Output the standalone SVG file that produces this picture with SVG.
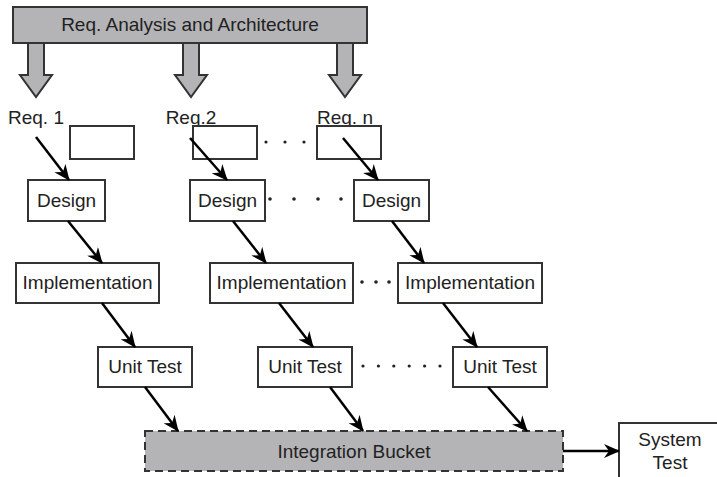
<svg xmlns="http://www.w3.org/2000/svg" width="717" height="477" viewBox="0 0 717 477">
<style>
text{font-family:"Liberation Sans",Arial,sans-serif;font-size:19px;fill:#222;text-anchor:middle}
.box{fill:#fff;stroke:#333;stroke-width:2}
.grey{fill:#b4b4b7;stroke:#333;stroke-width:2}
.dash{fill:#b4b4b7;stroke:#333;stroke-width:2;stroke-dasharray:8 5}
.con{stroke:#000;stroke-width:2.5;fill:none;marker-end:url(#ah)}
.dot{fill:#222}
</style>
<defs>
<marker id="ah" viewBox="0 0 16 14" refX="15" refY="7" markerWidth="16" markerHeight="14" markerUnits="userSpaceOnUse" orient="auto">
<path d="M0,0 L16,7 L0,14 L5,7 z" fill="#000"/>
</marker>
</defs>
<rect width="717" height="477" fill="#fff"/>
<g id="req-analysis">
<rect class="grey" x="13" y="7" width="354" height="36"/>
<text x="190" y="31">Req. Analysis and Architecture</text>
</g>
<g id="fat-arrows">
<polygon class="grey" points="28,43 44,43 44,75 52,75 36,97 20,75 28,75"/>
<polygon class="grey" points="183,43 199,43 199,75 207,75 191,97 175,75 183,75"/>
<polygon class="grey" points="337,43 353,43 353,75 361,75 345,97 329,75 337,75"/>
</g>
<g id="req1"><text x="36" y="124">Req. 1</text><rect class="box" x="70" y="126" width="64" height="33"/></g>
<g id="req2"><text x="191" y="124">Req.2</text><rect class="box" x="193" y="126" width="64" height="33"/></g>
<g id="reqn"><text x="345" y="124">Req. n</text><rect class="box" x="317" y="126" width="64" height="33"/></g>
<g id="design1"><rect class="box" x="28" y="180" width="77" height="41"/><text x="66.5" y="207">Design</text></g>
<g id="design2"><rect class="box" x="190" y="180" width="75" height="41"/><text x="227.5" y="207">Design</text></g>
<g id="design3"><rect class="box" x="354" y="180" width="75" height="41"/><text x="391.5" y="207">Design</text></g>
<g id="impl1"><rect class="box" x="16" y="263" width="143" height="40"/><text x="87.5" y="289">Implementation</text></g>
<g id="impl2"><rect class="box" x="210" y="263" width="143" height="40"/><text x="281.5" y="289">Implementation</text></g>
<g id="impl3"><rect class="box" x="398" y="263" width="144" height="40"/><text x="470" y="289">Implementation</text></g>
<g id="unit1"><rect class="box" x="98" y="347" width="94" height="40"/><text x="145" y="373">Unit Test</text></g>
<g id="unit2"><rect class="box" x="258" y="347" width="94" height="40"/><text x="305" y="373">Unit Test</text></g>
<g id="unit3"><rect class="box" x="453" y="347" width="94" height="40"/><text x="500" y="373">Unit Test</text></g>
<g id="integration-bucket"><rect class="dash" x="145" y="431" width="418" height="40"/><text x="354" y="458">Integration Bucket</text></g>
<g id="system-test"><rect class="box" x="619" y="423" width="110" height="70"/><text x="670" y="446">System</text><text x="670" y="469">Test</text></g>
<g id="dots">
<circle class="dot" cx="266" cy="142" r="1.6"/><circle class="dot" cx="285" cy="142" r="1.6"/><circle class="dot" cx="304" cy="142" r="1.6"/>
<circle class="dot" cx="270" cy="199" r="1.8"/><circle class="dot" cx="294" cy="199" r="1.8"/><circle class="dot" cx="318" cy="199" r="1.8"/><circle class="dot" cx="341" cy="199" r="1.8"/>
<circle class="dot" cx="362" cy="282" r="1.8"/><circle class="dot" cx="376" cy="282" r="1.8"/><circle class="dot" cx="389" cy="282" r="1.8"/>
<circle class="dot" cx="363" cy="366" r="1.6"/><circle class="dot" cx="378.4" cy="366" r="1.6"/><circle class="dot" cx="393.8" cy="366" r="1.6"/><circle class="dot" cx="409.2" cy="366" r="1.6"/><circle class="dot" cx="424.6" cy="366" r="1.6"/><circle class="dot" cx="440" cy="366" r="1.6"/>
</g>
<g id="connectors">
<line class="con" x1="36" y1="137" x2="69" y2="180"/>
<line class="con" x1="190" y1="138" x2="227" y2="180"/>
<line class="con" x1="343" y1="138" x2="378" y2="180"/>
<line class="con" x1="68" y1="221" x2="102" y2="263"/>
<line class="con" x1="233" y1="221" x2="266" y2="263"/>
<line class="con" x1="392" y1="221" x2="424" y2="263"/>
<line class="con" x1="102" y1="303" x2="135" y2="347"/>
<line class="con" x1="279" y1="303" x2="313" y2="347"/>
<line class="con" x1="443" y1="303" x2="477" y2="347"/>
<line class="con" x1="145" y1="387" x2="178" y2="431"/>
<line class="con" x1="330" y1="387" x2="363" y2="431"/>
<line class="con" x1="488" y1="387" x2="527" y2="431"/>
<line class="con" x1="563" y1="451" x2="619" y2="451"/>
</g>
</svg>
